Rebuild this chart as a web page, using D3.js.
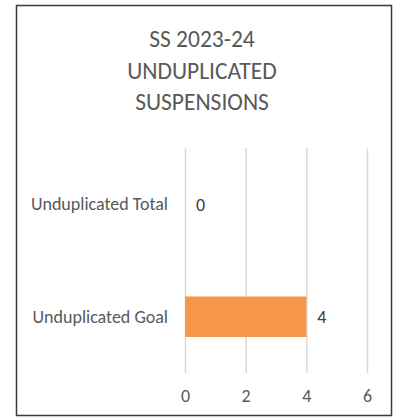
<!DOCTYPE html>
<html>
<head>
<meta charset="utf-8">
<script src="https://cdn.jsdelivr.net/npm/d3@7"></script>
<style>
  body { margin: 0; background: #fff; overflow: hidden; }
  svg { display: block; font-family: Carlito, Calibri, Lato, sans-serif; }
</style>
</head>
<body>
<svg width="401" height="420"></svg>
<script>
// chart data
var categories = ["Unduplicated Total", "Unduplicated Goal"];
var values = [0, 4];
var xTicks = [0, 2, 4, 6];
var titleLines = ["SS 2023-24", "UNDUPLICATED", "SUSPENSIONS"];

var svg = d3.select("svg"),
    margin = {top: 148, right: 34, bottom: 47, left: 185},
    width = 401 - margin.left - margin.right,
    height = 420 - margin.top - margin.bottom;

var fontFam = "Carlito, Calibri, Lato, sans-serif";

// outer frame
svg.append("rect")
    .attr("x", 16.5).attr("y", 5.5)
    .attr("width", 375).attr("height", 410)
    .attr("fill", "#fff")
    .attr("stroke", "#3a3a3a")
    .attr("stroke-width", 1.5);

// title
svg.append("g").selectAll("text")
    .data(titleLines)
    .enter().append("text")
    .attr("x", 202)
    .attr("y", function(d, i) { return 47 + i * 31.5; })
    .attr("text-anchor", "middle")
    .attr("fill", "#595959")
    .style("font-size", "23.5px")
    .text(function(d) { return d; });

var g = svg.append("g").attr("transform", "translate(" + margin.left + "," + margin.top + ")");

var x = d3.scaleLinear().domain([0, 6]).range([0, 182]);
var y = d3.scaleBand().domain(categories).range([0, height]).paddingInner(0.64).paddingOuter(0.32);

// vertical gridlines
g.append("g")
    .attr("class", "grid")
    .call(d3.axisBottom(x).tickValues(xTicks).tickSize(height).tickFormat(""))
    .call(function(s) { s.select(".domain").remove(); })
    .selectAll("line")
    .attr("stroke", "#d9d9d9")
    .attr("stroke-width", 1.5);

// x tick labels
g.append("g")
    .attr("transform", "translate(0," + height + ")")
    .call(d3.axisBottom(x).tickValues(xTicks).tickFormat(d3.format("d")).tickSize(0).tickPadding(16))
    .call(function(s) { s.select(".domain").remove(); })
    .selectAll("text")
    .attr("fill", "#595959")
    .style("font-family", fontFam)
    .style("font-size", "18px");

// category labels
g.append("g")
    .call(d3.axisLeft(y).tickSize(0).tickPadding(17))
    .call(function(s) { s.select(".domain").remove(); })
    .selectAll("text")
    .attr("fill", "#595959")
    .style("font-family", fontFam)
    .style("font-size", "18px");

// bars
g.selectAll(".bar")
    .data(values)
    .enter().append("rect")
    .attr("class", "bar")
    .attr("x", x(0))
    .attr("y", function(d, i) { return y(categories[i]); })
    .attr("width", function(d) { return x(d) - x(0); })
    .attr("height", y.bandwidth())
    .attr("fill", "#f79646");

// value labels
g.selectAll(".val")
    .data(values)
    .enter().append("text")
    .attr("class", "val")
    .attr("x", function(d) { return x(d) + 11; })
    .attr("y", function(d, i) { return y(categories[i]) + y.bandwidth() / 2; })
    .attr("dy", "0.35em")
    .attr("fill", "#404040")
    .style("font-size", "18px")
    .text(function(d) { return d; });
</script>
</body>
</html>
